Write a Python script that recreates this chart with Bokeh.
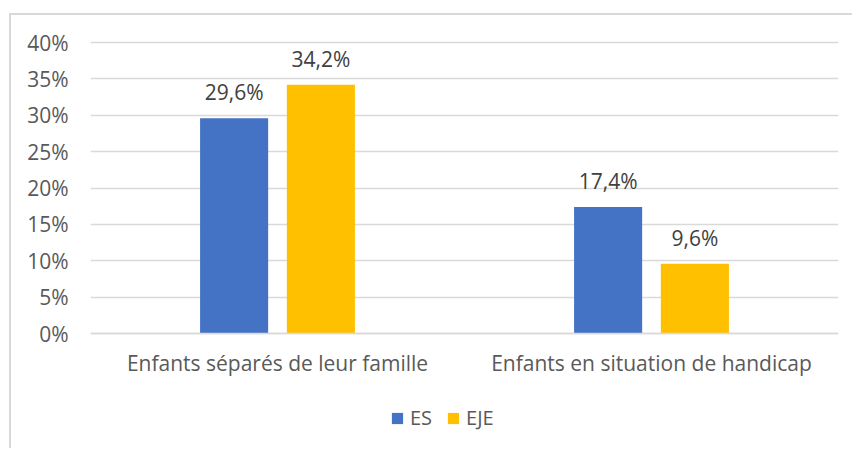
from bokeh.plotting import figure
from bokeh.models import (ColumnDataSource, FactorRange, Range1d, FixedTicker,
                          NumeralTickFormatter, Legend, LegendItem, LabelSet)
from bokeh.transform import dodge
from bokeh.core.properties import value
from bokeh.embed import file_html
from bokeh.resources import INLINE

categories = ["Enfants séparés de leur famille", "Enfants en situation de handicap"]
es_values = [0.296, 0.174]
eje_values = [0.342, 0.096]
es_labels = ["29,6%", "17,4%"]
eje_labels = ["34,2%", "9,6%"]
series_names = ["ES", "EJE"]
y_ticks = [0, 0.05, 0.10, 0.15, 0.20, 0.25, 0.30, 0.35, 0.40]

FONT = "Open Sans"
AX_COL = "#595959"
LBL_COL = "#404040"
GRID_COL = "#d9d9d9"
ES_COL = "#4472C4"
EJE_COL = "#FFC000"

src = ColumnDataSource(dict(cat=categories, es=es_values, eje=eje_values,
                            es_lbl=es_labels, eje_lbl=eje_labels))

p = figure(width=843, height=435, x_range=FactorRange(*categories),
           y_range=Range1d(-0.16082, 0.40275), output_backend="svg", toolbar_location=None,
           min_border_left=79, min_border_right=16, min_border_top=25, min_border_bottom=0)
p.styles = {"margin-left": "9px", "margin-top": "13px",
            "border-left": "2px solid #d9d9d9", "border-top": "2px solid #d9d9d9"}
p.outline_line_color = None
p.background_fill_color = "white"
p.border_fill_color = "white"

off = 0.116
bw = 0.182
r_es = p.vbar(x=dodge("cat", -off, range=p.x_range), top="es", width=bw, source=src,
              fill_color=ES_COL, line_color=None)
r_eje = p.vbar(x=dodge("cat", off, range=p.x_range), top="eje", width=bw, source=src,
               fill_color=EJE_COL, line_color=None)

for col, lbl, o in (("es", "es_lbl", -off), ("eje", "eje_lbl", off)):
    ls = LabelSet(x=dodge("cat", o, range=p.x_range), y=col, text=lbl, source=src,
                  text_align="center", text_baseline="alphabetic", y_offset=18,
                  text_font=value(FONT), text_font_size="21px", text_color=LBL_COL)
    p.add_layout(ls)

# axes
p.yaxis.ticker = FixedTicker(ticks=y_ticks)
p.yaxis.formatter = NumeralTickFormatter(format="0%")
p.yaxis.axis_line_color = None
p.yaxis.major_tick_line_color = None
p.yaxis.major_tick_out = 0
p.yaxis.minor_tick_line_color = None
p.yaxis.major_label_standoff = 22
p.yaxis.major_label_text_font = FONT
p.yaxis.major_label_text_font_size = "21px"
p.yaxis.major_label_text_color = AX_COL

p.xaxis.fixed_location = 0
p.xaxis.axis_line_color = GRID_COL
p.xaxis.axis_line_width = 1.5
p.xaxis.major_tick_line_color = None
p.xaxis.major_tick_out = 0
p.xaxis.minor_tick_line_color = None
p.xaxis.major_label_standoff = 15
p.xaxis.major_label_text_font = FONT
p.xaxis.major_label_text_font_size = "21px"
p.xaxis.major_label_text_color = AX_COL

p.xgrid.grid_line_color = None
p.ygrid.grid_line_color = GRID_COL
p.ygrid.grid_line_width = 1.5
p.ygrid.ticker = FixedTicker(ticks=y_ticks)

legend = Legend(items=[LegendItem(label=series_names[0], renderers=[r_es]),
                       LegendItem(label=series_names[1], renderers=[r_eje])],
                orientation="horizontal", location=(300, 19),
                glyph_width=14, glyph_height=14, label_standoff=6, spacing=14,
                padding=0, margin=0, border_line_color=None, background_fill_alpha=0,
                label_text_font=FONT, label_text_font_size="20px", label_text_color=AX_COL)
p.add_layout(legend, "center")

open("out.html", "w").write(file_html(p, INLINE))
